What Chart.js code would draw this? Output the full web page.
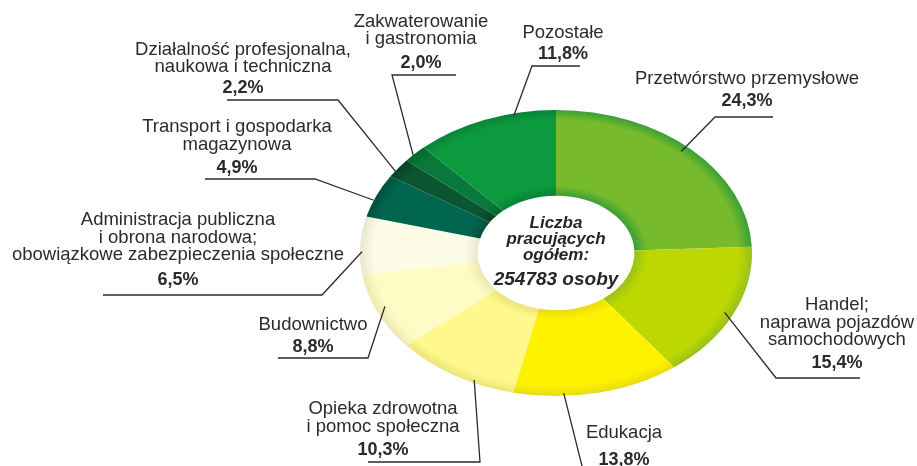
<!DOCTYPE html>
<html>
<head>
<meta charset="utf-8">
<script src="https://cdn.jsdelivr.net/npm/chart.js@4/dist/chart.umd.min.js"></script>
<style>
  html, body { margin: 0; padding: 0; background: #fff; }
  #wrap { width: 917px; height: 466px; position: relative; }
</style>
</head>
<body>
<div id="wrap"><canvas id="myChart"></canvas></div>
<script>
// Pracujący wg sekcji gospodarki (udział w %)
const categories = [
  ['Przetwórstwo przemysłowe'],
  ['Handel;', 'naprawa pojazdów', 'samochodowych'],
  ['Edukacja'],
  ['Opieka zdrowotna', 'i pomoc społeczna'],
  ['Budownictwo'],
  ['Administracja publiczna', 'i obrona narodowa;', 'obowiązkowe zabezpieczenia społeczne'],
  ['Transport i gospodarka', 'magazynowa'],
  ['Działalność profesjonalna,', 'naukowa i techniczna'],
  ['Zakwaterowanie', 'i gastronomia'],
  ['Pozostałe']
];
const shares = [24.3, 15.4, 13.8, 10.3, 8.8, 6.5, 4.9, 2.2, 2.0, 11.8];
const centerLines = ['Liczba', 'pracujących', 'ogółem:'];
const centerTotal = '254783 osoby';

// colours: flat fill and darker rim for the tube shading
const fills = ['#77bb2c', '#bdd800', '#fff200', '#fff88c', '#fffbc4', '#fdfce6', '#00654f', '#0b5533', '#08793a', '#0c9a3e'];
const rims = ['#3a9e36', '#98c21a', '#e6dc10', '#ece47a', '#ebe9b0', '#e8e6cf', '#00503e', '#063f25', '#05632c', '#07833a'];

// label placement: text centre x, line centres y, percent y, underline, which end meets the leader,
// t = position along the slice, r = fraction of outer radius
const labelPos = [
  { x: 747, ys: [79], py: 101, ux: [715, 773], uy: 117, side: 0, t: 0.48, r: 0.955 },
  { x: 837, ys: [305, 323, 340], py: 363, ux: [776, 860], uy: 378, side: 0, t: 0.51, r: 0.955 },
  { x: 624, ys: [433], py: 460, ux: [585, 665], uy: 478, side: 0, t: 0.70, r: 0.98 },
  { x: 383, ys: [409, 427], py: 450, ux: [368, 480], uy: 462, side: 1, t: 0.34, r: 0.98 },
  { x: 313, ys: [325], py: 347, ux: [278, 368], uy: 358, side: 1, t: 0.54, r: 0.95 },
  { x: 178, ys: [220, 238, 255], py: 280, ux: [103, 322], uy: 295, side: 1, t: 0.39, r: 0.99 },
  { x: 237, ys: [127, 145], py: 168, ux: [205, 315], uy: 179, side: 1, t: 0.39, r: 1.0 },
  { x: 243, ys: [50, 67], py: 88, ux: [227, 338], uy: 100, side: 1, t: 0.32, r: 1.0 },
  { x: 421, ys: [22, 39], py: 63, ux: [392, 456], uy: 75, side: 0, t: 0.40, r: 1.0 },
  { x: 563, ys: [33], py: 54, ux: [532, 580], uy: 66, side: 0, t: 0.70, r: 0.98 }
];

const FONT = '"Liberation Sans", Arial, sans-serif';
const squash = 0.73; // vertical flattening of the ring

const ellipsePlugin = {
  id: 'ellipse',
  beforeDatasetsDraw(chart) {
    const arc = chart.getDatasetMeta(0).data[0];
    const ctx = chart.ctx;
    ctx.save();
    ctx.translate(0, arc.y);
    ctx.scale(1, squash);
    ctx.translate(0, -arc.y);
  },
  afterDatasetsDraw(chart) {
    chart.ctx.restore();
  }
};

const labelPlugin = {
  id: 'labels',
  afterDraw(chart) {
    const ctx = chart.ctx;
    const arcs = chart.getDatasetMeta(0).data;
    ctx.save();
    ctx.textAlign = 'center';
    ctx.textBaseline = 'middle';
    ctx.fillStyle = '#2b2b2b';
    ctx.strokeStyle = '#2b2b2b';
    ctx.lineWidth = 1.3;

    arcs.forEach((arc, i) => {
      const p = labelPos[i];
      const a = arc.startAngle + p.t * (arc.endAngle - arc.startAngle);
      const ax = arc.x + Math.cos(a) * arc.outerRadius * p.r;
      const ay = arc.y + Math.sin(a) * arc.outerRadius * p.r * squash;
      const ex = p.ux[p.side];
      ctx.beginPath();
      ctx.moveTo(p.ux[1 - p.side], p.uy);
      ctx.lineTo(ex, p.uy);
      ctx.lineTo(ax, ay);
      ctx.stroke();

      ctx.font = '18.5px ' + FONT;
      categories[i].forEach((line, k) => ctx.fillText(line, p.x, p.ys[k]));
      ctx.font = 'bold 18px ' + FONT;
      ctx.fillText(shares[i].toFixed(1).replace('.', ',') + '%', p.x, p.py);
    });

    // total in the hole
    const c = arcs[0];
    ctx.fillStyle = '#262626';
    ctx.font = 'italic bold 17px ' + FONT;
    ctx.fillText(centerLines[0], c.x, c.y - 30);
    ctx.fillText(centerLines[1], c.x, c.y - 14);
    ctx.fillText(centerLines[2], c.x, c.y + 2);
    ctx.font = 'italic bold 19px ' + FONT;
    ctx.fillText(centerTotal, c.x, c.y + 27);
    ctx.restore();
  }
};

function tubeFill(context) {
  const i = context.dataIndex;
  const area = context.chart.chartArea;
  if (!area) return fills[i];
  const cx = (area.left + area.right) / 2;
  const cy = (area.top + area.bottom) / 2;
  const r = Math.min(area.width, area.height) / 2;
  const g = context.chart.ctx.createRadialGradient(cx, cy, 0, cx, cy, r);
  g.addColorStop(0, rims[i]);
  g.addColorStop(0.4, rims[i]);
  g.addColorStop(0.47, fills[i]);
  g.addColorStop(0.93, fills[i]);
  g.addColorStop(1, rims[i]);
  return g;
}

const data = {
  labels: categories,
  datasets: [
    {
      data: shares,
      backgroundColor: tubeFill,
      borderWidth: 0,
      hoverOffset: 0
    }
  ]
};

const config = {
  type: 'doughnut',
  data: data,
  options: {
    responsive: true,
    maintainAspectRatio: false,
    animation: false,
    cutout: '40%',
    layout: { padding: { left: 360, right: 165, top: 57, bottom: 17 } },
    plugins: {
      legend: { display: false },
      tooltip: { enabled: false }
    }
  },
  plugins: [ellipsePlugin, labelPlugin]
};

var myChart = new Chart(document.getElementById('myChart'), config);
</script>
</body>
</html>
